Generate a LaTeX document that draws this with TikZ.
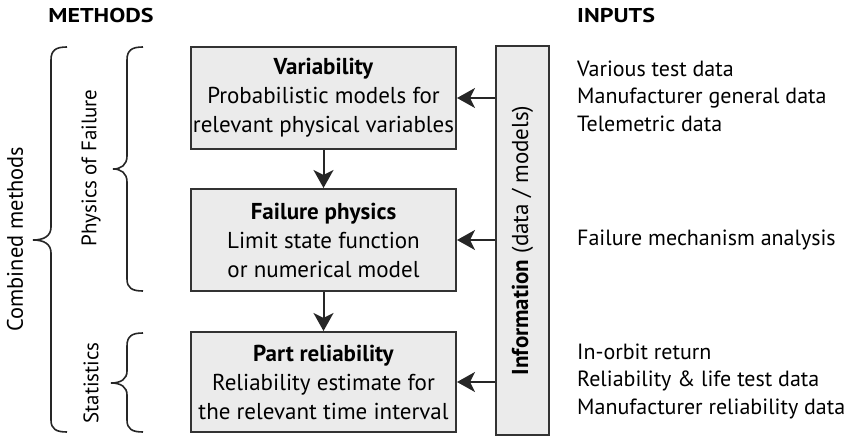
\documentclass[tikz,border=0pt]{standalone}
\usepackage{fontspec}
\setmainfont{PT Sans}
\usetikzlibrary{arrows.meta}
\begin{document}
\begin{tikzpicture}[x=1pt,y=-1pt,
  every node/.style={inner sep=0pt},
  boxfont/.style={font=\fontsize{23}{29}\selectfont},
  stagebox/.style={boxfont, draw=black!80, line width=2pt, fill=black!8, align=center},
  infobox/.style={draw=black!80, line width=2pt, fill=black!8},
  flow/.style={line width=2pt, draw=black!85, -{Stealth[length=18pt,width=20pt,inset=5pt]}},
  brc/.style={line width=1.6pt, draw=black!85},
  inputtext/.style={font=\fontsize{22}{27.5}\selectfont, anchor=west, align=left},
  sidetext/.style={rotate=90, font=\fontsize{21}{25}\selectfont},
  head/.style={font=\fontsize{20}{22}\selectfont\bfseries, xscale=1.2, transform shape}]
\useasboundingbox (0,0) rectangle (849,444);

\node[head] (methods) at (101,16) {METHODS};
\node[head, anchor=west] (inputs) at (577,16) {INPUTS};

\node[stagebox, minimum width=265pt, minimum height=102pt] (var) at (323.5,98)
  {\textbf{Variability}\\Probabilistic models for\\relevant physical variables};
\node[stagebox, minimum width=265pt, minimum height=102pt] (fail) at (323.5,240)
  {\textbf{Failure physics}\\Limit state function\\or numerical model};
\node[stagebox, minimum width=265pt, minimum height=100pt] (part) at (323.5,382)
  {\textbf{Part reliability}\\Reliability estimate for\\the relevant time interval};

\node[infobox, minimum width=53pt, minimum height=389pt] (info) at (522.5,240.5) {};
\node[rotate=90, font=\fontsize{23}{27}\selectfont] (infotext) at (info.center) {\textbf{Information} (data / models)};

\draw[flow] (var.south) -- (fail.north);
\draw[flow] (fail.south) -- (part.north);
\draw[flow] (info.west |- var.east) -- (var.east);
\draw[flow] (info.west |- fail.east) -- (fail.east);
\draw[flow] (info.west |- part.east) -- (part.east);

\node[inputtext] (in1) at (577,96) {Various test data\\Manufacturer general data\\Telemetric data};
\node[inputtext] (in2) at (577,240) {Failure mechanism analysis};
\node[inputtext] (in3) at (577,381) {In-orbit return\\Reliability \& life test data\\Manufacturer reliability data};

% braces
\draw[brc] (143,47) .. controls (132,47) and (127,50) .. (127,60) -- (127,156)
  .. controls (127,165) and (121,169) .. (113,169)
  .. controls (121,169) and (127,173) .. (127,182) -- (127,279)
  .. controls (127,288) and (132,291) .. (143,291);
\draw[brc] (143,333) .. controls (132,333) and (127,336) .. (127,346) -- (127,371)
  .. controls (127,379) and (121,383) .. (111,383)
  .. controls (121,383) and (127,387) .. (127,395) -- (127,420)
  .. controls (127,429) and (132,432) .. (143,432);
\draw[brc] (67,47) .. controls (56,47) and (51,50) .. (51,60) -- (51,227)
  .. controls (51,236) and (44,240) .. (33,240)
  .. controls (44,240) and (51,244) .. (51,253) -- (51,420)
  .. controls (51,429) and (56,432) .. (67,432);

\node[sidetext] (pof) at (91,168) {Physics of Failure};
\node[sidetext] (stat) at (91,383) {Statistics};
\node[sidetext, font=\fontsize{22.4}{26}\selectfont] (comb) at (15,239) {Combined methods};
\end{tikzpicture}
\end{document}
